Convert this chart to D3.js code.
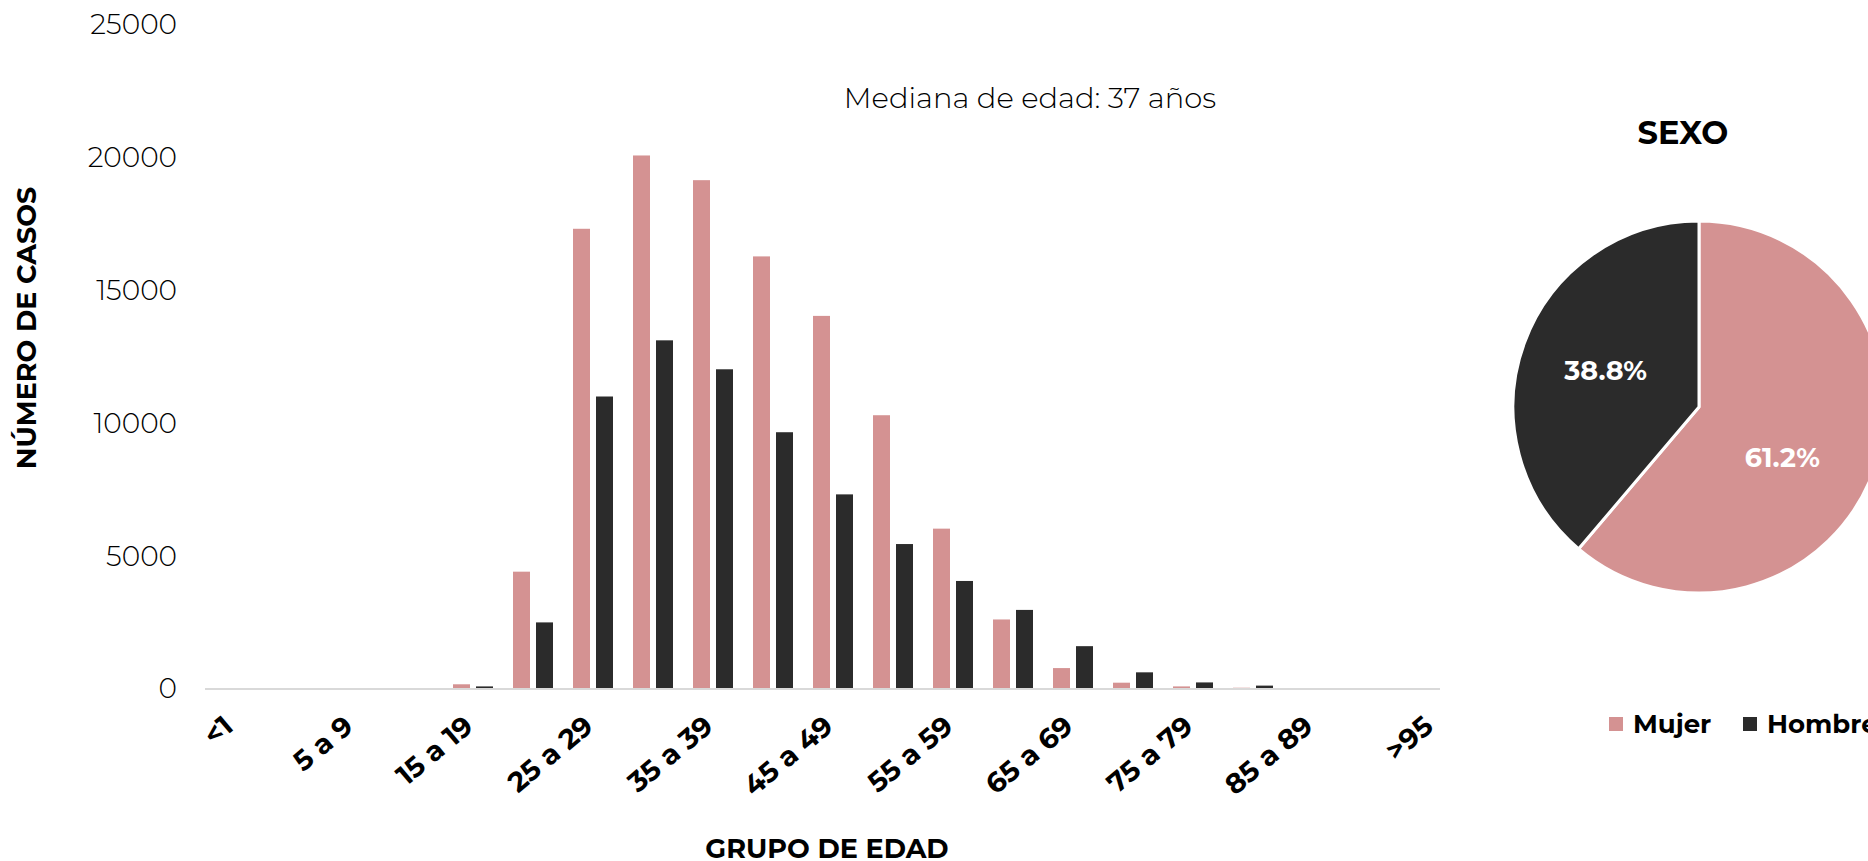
<!DOCTYPE html>
<html>
<head>
<meta charset="utf-8">
<script src="https://cdn.jsdelivr.net/npm/d3@7"></script>
<style>
  html, body { margin: 0; padding: 0; background: #fff; }
  svg { display: block; }
  .light { font-family: "Montserrat", "Open Sans", sans-serif; font-weight: 300; fill: #000; }
  .bold { font-family: "Montserrat", "Open Sans", sans-serif; font-weight: 700; fill: #000; }
</style>
</head>
<body>
<svg id="chart" width="1868" height="861"></svg>
<script>
// ---- Data ----
const categories = ["<1","1 a 4","5 a 9","10 a 14","15 a 19","20 a 24","25 a 29","30 a 34","35 a 39","40 a 44","45 a 49","50 a 54","55 a 59","60 a 64","65 a 69","70 a 74","75 a 79","80 a 84","85 a 89","90 a 94",">95"];
const mujer  = [0,0,0,0,140,4380,17290,20050,19120,16250,14010,10270,6000,2580,750,200,60,10,0,0,0];
const hombre = [0,0,0,0,60,2470,10975,13090,12000,9630,7290,5420,4030,2940,1575,590,210,90,0,0,0];
const series = ["Mujer","Hombre"];
const yTicks = [0,5000,10000,15000,20000,25000];
const sexLabels = ["Mujer","Hombre"];
const sexPct = [61.2, 38.8];
const medianText = "Mediana de edad: 37 años";

const colors = {Mujer: "#D49292", Hombre: "#2B2B2B"};

const svg = d3.select("#chart");

// ---- Scales ----
const x = d3.scaleBand().domain(categories).range([203, 1463]).padding(0);
const xInner = d3.scaleBand().domain(series).range([-20, 20]).paddingInner(0.261).paddingOuter(0);
const y = d3.scaleLinear().domain([0, 25000]).range([688, 24]);

const rows = categories.map((c, i) => ({cat: c, Mujer: mujer[i], Hombre: hombre[i]}));

// ---- Y axis (labels only) ----
const yAxis = svg.append("g").attr("transform", "translate(177,0)")
  .call(d3.axisLeft(y).tickValues(yTicks).tickSize(0).tickPadding(0).tickFormat(d3.format("d")));
yAxis.select(".domain").remove();
yAxis.selectAll("text").attr("class", "light").style("font-size", "28px").attr("dy", "0.35em");

// ---- Bars ----
const groups = svg.append("g").selectAll("g").data(rows).join("g")
  .attr("transform", d => `translate(${x(d.cat) + x.bandwidth()/2},0)`);
groups.selectAll("rect").data(d => series.map(s => ({s, v: d[s]}))).join("rect")
  .attr("x", d => xInner(d.s))
  .attr("width", xInner.bandwidth())
  .attr("y", d => y(d.v))
  .attr("height", d => y(0) - y(d.v))
  .attr("fill", d => colors[d.s]);

// ---- X axis ----
svg.append("line")
  .attr("x1", 205).attr("x2", 1440)
  .attr("y1", y(0) + 1).attr("y2", y(0) + 1)
  .attr("stroke", "#D9D9D9").attr("stroke-width", 2);

const shown = categories.filter((c, i) => i % 2 === 0);
const xAxis = svg.append("g").attr("transform", `translate(0,${y(0)})`)
  .call(d3.axisBottom(x).tickValues(shown).tickSize(0).tickPadding(0));
xAxis.select(".domain").remove();
xAxis.selectAll("text")
  .attr("class", "bold")
  .style("font-size", "28px")
  .attr("text-anchor", "end")
  .attr("y", 0).attr("dy", "0")
  .attr("transform", "translate(2,41) rotate(-40)");

// ---- Axis titles ----
svg.append("text").attr("class", "bold").style("font-size", "27px")
  .attr("text-anchor", "middle")
  .attr("transform", "translate(36,328) rotate(-90)")
  .text("NÚMERO DE CASOS");
svg.append("text").attr("class", "bold").style("font-size", "27px")
  .attr("text-anchor", "middle")
  .attr("x", 827).attr("y", 858)
  .text("GRUPO DE EDAD");

// ---- Median annotation ----
svg.append("text").attr("class", "light").style("font-size", "29px")
  .attr("text-anchor", "middle")
  .attr("x", 1030).attr("y", 108)
  .text(medianText);

// ---- Pie ----
const cx = 1699, cy = 407, r = 186;
const pie = d3.pie().sort(null).value(d => d.v);
const pieData = pie(sexLabels.map((s, i) => ({s, v: sexPct[i]})));
const arc = d3.arc().innerRadius(0).outerRadius(r);
const pg = svg.append("g").attr("transform", `translate(${cx},${cy})`);
pg.selectAll("path").data(pieData).join("path")
  .attr("d", arc)
  .attr("fill", d => colors[d.data.s])
  .attr("stroke", "#fff").attr("stroke-width", 3).attr("stroke-linejoin", "round");
pg.selectAll("text").data(pieData).join("text")
  .attr("class", "bold")
  .style("fill", "#fff").style("font-size", "27px")
  .attr("text-anchor", "middle").attr("dy", "0.35em")
  .attr("transform", d => {
    const c = arc.centroid(d);
    return `translate(${c[0] + (d.index === 0 ? -4 : -6)},${c[1] + (d.index === 0 ? 18 : -4)})`;
  })
  .text(d => d.data.v.toFixed(1) + "%");

svg.append("text").attr("class", "bold").style("font-size", "32px")
  .attr("text-anchor", "middle")
  .attr("x", 1683).attr("y", 144)
  .text("SEXO");

// ---- Legend ----
const legX = [1609, 1743];
const lg = svg.append("g");
sexLabels.forEach((s, i) => {
  lg.append("rect").attr("x", legX[i]).attr("y", 717).attr("width", 14).attr("height", 14).attr("fill", colors[s]);
  lg.append("text").attr("class", "bold").style("font-size", "26px")
    .attr("x", legX[i] + 24).attr("y", 724).attr("dy", "0.35em").text(s);
});
</script>
</body>
</html>
